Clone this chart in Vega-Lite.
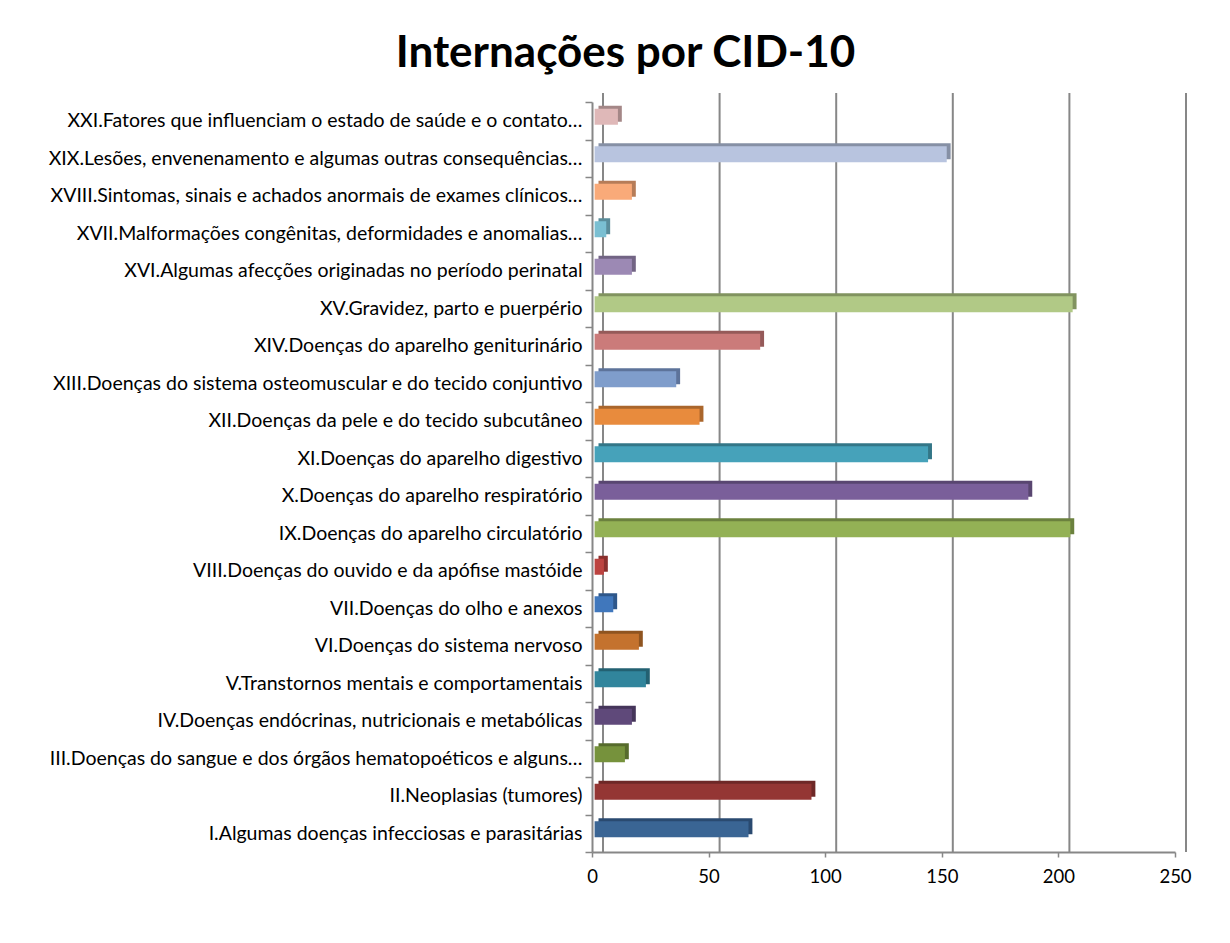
{
  "$schema": "https://vega.github.io/schema/vega-lite/v6.json",
  "width": 583,
  "height": 750,
  "autosize": {"type": "none"},
  "padding": {"left": 592, "top": 102, "right": 55, "bottom": 91},
  "background": "white",
  "config": {"font": "Lato", "view": {"stroke": null}},
  "title": {"text": "Internações por CID-10", "font": "Lato", "fontSize": 44, "fontWeight": "bold", "color": "#000000", "dx": -258, "offset": 16},
  "datasets": {
    "internacoes": [
      {"ordem": 1, "capitulo": "I.Algumas doenças infecciosas e parasitárias", "internacoes": 66},
      {"ordem": 2, "capitulo": "II.Neoplasias (tumores)", "internacoes": 93},
      {"ordem": 3, "capitulo": "III.Doenças do sangue e dos órgãos hematopoéticos e alguns…", "internacoes": 13},
      {"ordem": 4, "capitulo": "IV.Doenças endócrinas, nutricionais e metabólicas", "internacoes": 16},
      {"ordem": 5, "capitulo": "V.Transtornos mentais e comportamentais", "internacoes": 22},
      {"ordem": 6, "capitulo": "VI.Doenças do sistema nervoso", "internacoes": 19},
      {"ordem": 7, "capitulo": "VII.Doenças do olho e anexos", "internacoes": 8},
      {"ordem": 8, "capitulo": "VIII.Doenças do ouvido e da apófise mastóide", "internacoes": 4},
      {"ordem": 9, "capitulo": "IX.Doenças do aparelho circulatório", "internacoes": 204},
      {"ordem": 10, "capitulo": "X.Doenças do aparelho respiratório", "internacoes": 186},
      {"ordem": 11, "capitulo": "XI.Doenças do aparelho digestivo", "internacoes": 143},
      {"ordem": 12, "capitulo": "XII.Doenças da pele e do tecido subcutâneo", "internacoes": 45},
      {"ordem": 13, "capitulo": "XIII.Doenças do sistema osteomuscular e do tecido conjuntivo", "internacoes": 35},
      {"ordem": 14, "capitulo": "XIV.Doenças do aparelho geniturinário", "internacoes": 71},
      {"ordem": 15, "capitulo": "XV.Gravidez, parto e puerpério", "internacoes": 205},
      {"ordem": 16, "capitulo": "XVI.Algumas afecções originadas no período perinatal", "internacoes": 16},
      {"ordem": 17, "capitulo": "XVII.Malformações congênitas, deformidades e anomalias…", "internacoes": 5},
      {"ordem": 18, "capitulo": "XVIII.Sintomas, sinais e achados anormais de exames clínicos…", "internacoes": 16},
      {"ordem": 19, "capitulo": "XIX.Lesões, envenenamento e algumas outras consequências…", "internacoes": 151},
      {"ordem": 20, "capitulo": "XXI.Fatores que influenciam o estado de saúde e o contato…", "internacoes": 10}
    ],
    "grade": [{"valor": 0}, {"valor": 50}, {"valor": 100}, {"valor": 150}, {"valor": 200}, {"valor": 250}]
  },
  "layer": [
    {
      "data": {"name": "grade"},
      "mark": {"type": "rule", "color": "#878787", "strokeWidth": 2, "xOffset": 11, "yOffset": -9},
      "encoding": {
        "x": {"field": "valor", "type": "quantitative", "title": null, "scale": {"domain": [0, 250], "nice": false}}
      }
    },
    {
      "data": {"name": "internacoes"},
      "mark": {"type": "bar", "size": 16, "xOffset": 6.5, "yOffset": -7},
      "encoding": {
        "y": {"field": "capitulo", "type": "nominal", "title": null, "sort": {"field": "ordem", "order": "descending"}, "scale": {"paddingInner": 0, "paddingOuter": 0}},
        "x": {"field": "internacoes", "type": "quantitative", "title": null},
        "color": {"field": "ordem", "type": "nominal", "legend": null, "scale": {"domain": [1,2,3,4,5,6,7,8,9,10,11,12,13,14,15,16,17,18,19,20], "range": ["#2A4A70","#6E2827","#566B2C","#45355A","#236172","#8F5420","#2E578A","#8A2F2D","#6B813E","#594670","#337687","#AA662C","#5D739A","#955A59","#81935F","#726484","#5A8C9A","#B67C58","#8690A5","#A48787"]}}
      }
    },
    {
      "data": {"name": "internacoes"},
      "mark": {"type": "bar", "size": 16, "xOffset": 2.6, "yOffset": -4},
      "encoding": {
        "y": {"field": "capitulo", "type": "nominal", "title": null, "sort": {"field": "ordem", "order": "descending"}, "scale": {"paddingInner": 0, "paddingOuter": 0},
          "axis": {"title": null, "tickBand": "extent", "tickSize": 7, "tickColor": "#878787", "tickWidth": 1.5, "domainColor": "#878787", "domainWidth": 2, "labelFont": "Lato", "labelFontSize": 19.5, "labelColor": "#000000", "labelPadding": 3, "labelLimit": 700}},
        "x": {"field": "internacoes", "type": "quantitative", "title": null,
          "axis": {"title": null, "grid": false, "values": [0, 50, 100, 150, 200, 250], "labelFlush": false, "domainColor": "#878787", "domainWidth": 2, "tickColor": "#878787", "tickWidth": 1.5, "tickSize": 5, "labelFont": "Lato", "labelFontSize": 18.5, "labelColor": "#000000", "labelPadding": 10}},
        "color": {"field": "ordem", "type": "nominal", "legend": null, "scale": {"domain": [1,2,3,4,5,6,7,8,9,10,11,12,13,14,15,16,17,18,19,20], "range": ["#3A6594","#943634","#76923C","#5F497A","#31859C","#C4722E","#4077BC","#BC4340","#93B155","#7A5F9A","#46A2BA","#E88B3D","#7F9DCB","#CB7B7A","#B1C986","#9C89B4","#7ABFD2","#F9AA79","#B8C4DF","#DFB8B8"]}}
      }
    }
  ],
  "resolve": {"scale": {"color": "independent"}}
}
